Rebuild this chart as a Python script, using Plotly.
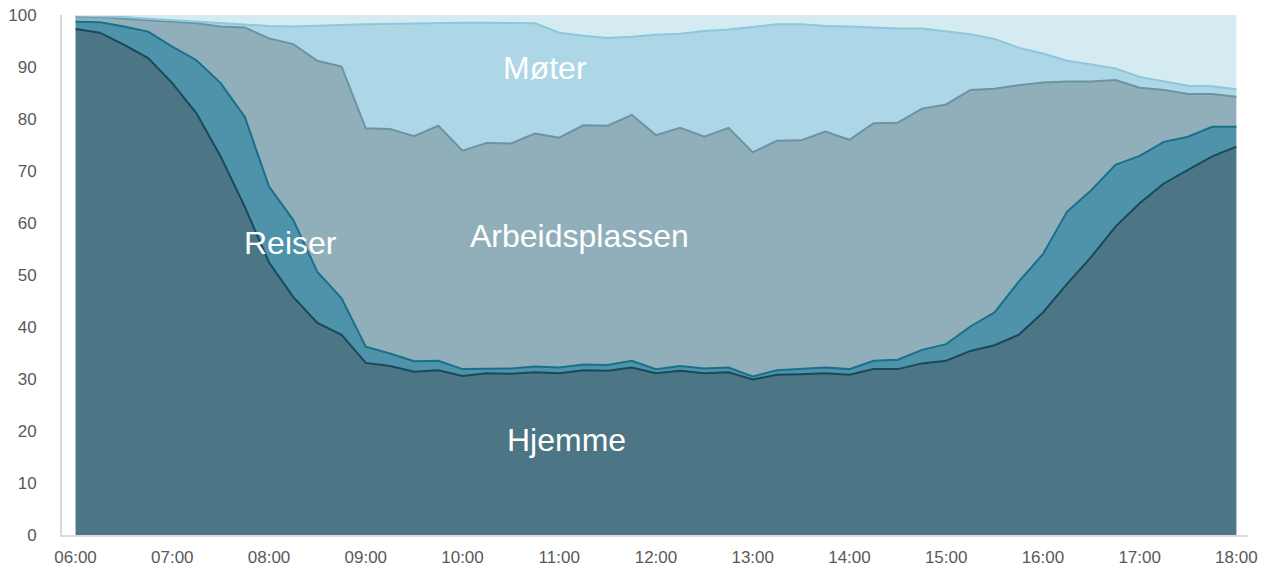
import plotly.graph_objects as go

# tidspunkter hvert kvarter 06:00-18:00
tider = [f"{6 + i // 4:02d}:{(i % 4) * 15:02d}" for i in range(49)]
timer = [int(t[:2]) + int(t[3:]) / 60 - 6 for t in tider]

# andeler (prosent) per aktivitet, lest av figuren
hjemme = [97.3, 96.6, 94.3, 91.7, 86.9, 81.1, 72.8, 63.1, 52.4, 45.8, 40.8, 38.5,
          33.1, 32.5, 31.4, 31.7, 30.6, 31.1, 31.0, 31.3, 31.1, 31.7, 31.6, 32.2,
          31.1, 31.6, 31.1, 31.3, 29.9, 30.8, 30.9, 31.1, 30.8, 31.9, 31.9, 33.0,
          33.5, 35.4, 36.5, 38.5, 42.8, 48.3, 53.5, 59.3, 63.8, 67.6, 70.2, 72.8,
          74.7]
reiser = [1.4, 2.0, 3.5, 5.1, 7.0, 10.2, 14.1, 17.3, 14.6, 14.8, 9.8, 7.0,
          3.1, 2.4, 2.0, 1.8, 1.3, 0.9, 1.0, 1.1, 1.1, 1.1, 1.1, 1.3,
          0.8, 0.9, 0.9, 0.9, 0.6, 0.9, 1.1, 1.1, 1.1, 1.6, 1.8, 2.6,
          3.2, 4.7, 6.3, 10.2, 11.2, 13.9, 12.8, 11.9, 9.1, 8.0, 6.4, 5.7,
          3.8]
arbeidsplassen = [1.0, 1.0, 1.5, 2.2, 4.9, 7.1, 10.9, 17.2, 28.5, 33.8, 40.6, 44.6,
                  42.0, 43.2, 43.3, 45.2, 42.0, 43.4, 43.3, 44.8, 44.2, 46.0, 46.0, 47.3,
                  45.0, 45.8, 44.6, 46.1, 43.1, 44.1, 43.9, 45.4, 44.1, 45.7, 45.6, 46.4,
                  46.1, 45.5, 43.0, 37.8, 33.0, 25.0, 20.9, 16.3, 13.1, 10.0, 8.2, 6.3,
                  5.8]
moter = [0.2, 0.2, 0.3, 0.3, 0.2, 0.3, 0.6, 0.5, 2.4, 3.4, 6.8, 8.0,
         20.0, 20.2, 21.6, 19.7, 24.6, 23.1, 23.2, 21.2, 20.2, 17.2, 16.9, 15.0,
         19.3, 18.1, 20.3, 18.9, 24.1, 22.4, 22.3, 20.3, 21.8, 18.4, 18.1, 15.4,
         14.0, 10.7, 9.6, 7.2, 5.6, 4.0, 3.3, 2.2, 2.1, 1.6, 1.6, 1.5,
         1.4]
annet = [0.1, 0.2, 0.4, 0.7, 1.0, 1.3, 1.6, 1.9, 2.1, 2.2, 2.0, 1.9,
         1.8, 1.7, 1.7, 1.6, 1.5, 1.5, 1.5, 1.6, 3.4, 4.0, 4.4, 4.2,
         3.8, 3.6, 3.1, 2.8, 2.3, 1.8, 1.8, 2.1, 2.2, 2.4, 2.6, 2.6,
         3.2, 3.7, 4.6, 6.3, 7.4, 8.8, 9.5, 10.3, 11.9, 12.8, 13.6, 13.7,
         14.3]

y_ticks = [0, 10, 20, 30, 40, 50, 60, 70, 80, 90, 100]
x_ticks = ["06:00", "07:00", "08:00", "09:00", "10:00", "11:00", "12:00",
           "13:00", "14:00", "15:00", "16:00", "17:00", "18:00"]

lag = [
    ("Hjemme", hjemme, "#4c7685", "#17495b"),
    ("Reiser", reiser, "#4f93aa", "#18708a"),
    ("Arbeidsplassen", arbeidsplassen, "#90afba", "#6a94a4"),
    ("Møter", moter, "#add7e6", "#8cc7dc"),
    ("Annet", annet, "#d5ebf2", "#d5ebf2"),
]

fig = go.Figure()
for navn, verdier, fyll, linje in lag:
    fig.add_trace(go.Scatter(
        x=timer, y=verdier, name=navn, mode="lines",
        stackgroup="a", fillcolor=fyll,
        line=dict(color=linje, width=2),
    ))

# etiketter inne i flatene
etiketter = [("Møter", 4.85, 89.8), ("Reiser", 2.22, 56.2),
             ("Arbeidsplassen", 5.21, 57.5), ("Hjemme", 5.07, 18.3)]
for tekst, x, y in etiketter:
    fig.add_annotation(x=x, y=y, text=tekst, showarrow=False,
                       font=dict(color="white", size=32, family="Liberation Sans"))

fig.update_layout(
    width=1264, height=571,
    margin=dict(l=62, r=16, t=15, b=36),
    plot_bgcolor="white", paper_bgcolor="white",
    showlegend=False,
    font=dict(family="Liberation Sans", size=17, color="#595959"),
)
fig.update_xaxes(
    range=[-0.14, 12.12], tickvals=list(range(13)), ticktext=x_ticks,
    showgrid=False, zeroline=False, showline=True, linecolor="#d9d9d9",
    linewidth=2, ticks="", ticklabelstandoff=6, automargin=False,
)
fig.update_yaxes(
    range=[0, 100], tickvals=y_ticks, showgrid=False, zeroline=False,
    showline=True, linecolor="#d9d9d9", linewidth=2, ticks="",
    ticklabelstandoff=20, automargin=False,
)

# fjern sidens standardmarg slik at figuren fyller vinduet
fig.write_html("out.html", config={"displayModeBar": False},
               post_script="document.body.style.margin='0';")
